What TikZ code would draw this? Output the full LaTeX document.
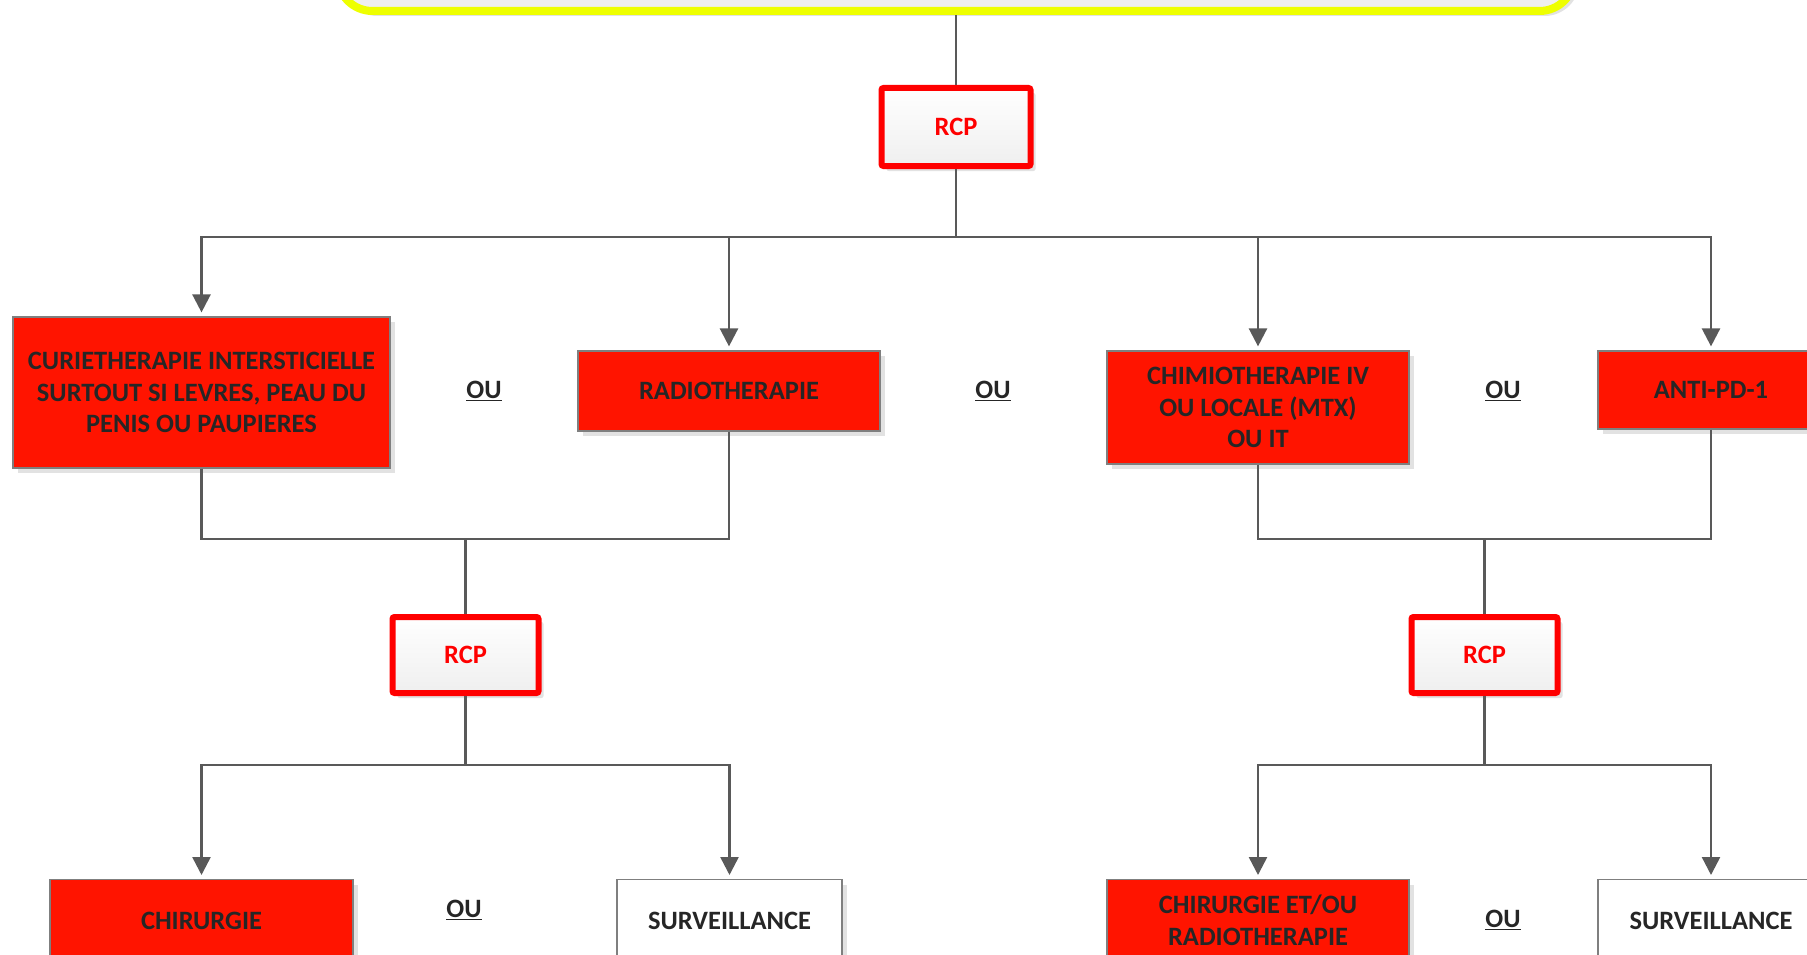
\documentclass[tikz,border=0pt]{standalone}
\usepackage{fontspec}
\setmainfont{Carlito}
\usetikzlibrary{arrows.meta,shadows}
\definecolor{boxred}{RGB}{255,20,0}
\definecolor{linegray}{RGB}{89,89,89}
\definecolor{txtgray}{RGB}{38,38,38}
\definecolor{yel}{RGB}{238,255,0}
\definecolor{shad}{RGB}{226,226,226}
\definecolor{bordergray}{RGB}{127,127,127}
\definecolor{lightfill}{RGB}{239,239,239}
\begin{document}
\begin{tikzpicture}[x=1pt,y=-1pt,
  font=\fontsize{26.5}{31.7}\selectfont\bfseries,
  shd/.style={drop shadow={shadow xshift=5pt,shadow yshift=-5pt,fill=shad,opacity=1}},
  redbox/.style={shd, draw=bordergray, line width=1.2pt, fill=boxred, text=txtgray, inner sep=0pt, align=center},
  whitebox/.style={shd, draw=bordergray, line width=1.2pt, fill=white, text=txtgray, inner sep=0pt, align=center},
  rcpbox/.style={shd, draw=red, line width=6pt, top color=white, bottom color=lightfill, text=red, rounded corners=2pt, minimum width=149pt, minimum height=78pt, inner sep=0pt},
  conn/.style={draw=linegray, line width=2.5pt},
  arr/.style={conn, -{Triangle[width=18pt,length=18pt]}, shorten >=4pt},
  oulabel/.style={text=txtgray, inner sep=0pt}
]
\useasboundingbox (0,0) rectangle (1807,955);

% top yellow box
\node[shd, draw=yel, fill=lightfill, line width=8pt, rounded corners=35pt,
      minimum width=1237pt, minimum height=200pt, anchor=south] (top) at (956,15) {};

% RCP 1
\node[rcpbox] (rcp1) at (956,127) {RCP};

% row of treatments
\node[redbox, minimum width=377pt, minimum height=151pt] (curie) at (201.5,392.5)
  {CURIETHERAPIE INTERSTICIELLE\\SURTOUT SI LEVRES, PEAU DU\\PENIS OU PAUPIERES};
\node[redbox, minimum width=302pt, minimum height=80pt] (radio) at (729,391) {RADIOTHERAPIE};
\node[redbox, minimum width=302pt, minimum height=113pt] (chimio) at (1258,407.5)
  {CHIMIOTHERAPIE IV\\OU LOCALE (MTX)\\OU IT};
\node[redbox, minimum width=226pt, minimum height=78pt] (anti) at (1711,390) {ANTI-PD-1};

\node[oulabel] (ou1) at (484,391) {\underline{OU}};
\node[oulabel] (ou2) at (993,391) {\underline{OU}};
\node[oulabel] (ou3) at (1503,391) {\underline{OU}};

% RCP 2
\node[rcpbox, minimum width=146pt, minimum height=76pt] (rcpl) at (465.5,655) {RCP};
\node[rcpbox, minimum width=146pt, minimum height=76pt] (rcpr) at (1484.5,655) {RCP};

% bottom row
\node[redbox, minimum width=303pt, minimum height=82pt, anchor=north] (chir) at (201.5,879) {CHIRURGIE};
\node[whitebox, minimum width=225pt, minimum height=82pt, anchor=north] (survl) at (729.5,879) {SURVEILLANCE};
\node[redbox, minimum width=302pt, minimum height=82pt, anchor=north] (chirr) at (1258,879)
  {CHIRURGIE ET/OU\\RADIOTHERAPIE};
\node[whitebox, minimum width=226pt, minimum height=82pt, anchor=north] (survr) at (1711,879) {SURVEILLANCE};

\node[oulabel] (ou4) at (464,910) {\underline{OU}};
\node[oulabel] (ou5) at (1503,920) {\underline{OU}};

% junctions
\coordinate (j1) at (956,237);
\coordinate (j2) at (465.5,539);
\coordinate (j3) at (1484.5,539);
\coordinate (j4) at (465.5,765);
\coordinate (j5) at (1484.5,765);

% connectors
\draw[conn] (top.south) -- (rcp1.north);
\draw[conn] (rcp1.south) -- (j1);
\draw[arr] (j1) -| (curie.north);
\draw[arr] (j1) -| (radio.north);
\draw[arr] (j1) -| (chimio.north);
\draw[arr] (j1) -| (anti.north);

\draw[conn] (curie.south) |- (j2);
\draw[conn] (radio.south) |- (j2);
\draw[conn] (j2) -- (rcpl.north);
\draw[conn] (chimio.south) |- (j3);
\draw[conn] (anti.south) |- (j3);
\draw[conn] (j3) -- (rcpr.north);

\draw[conn] (rcpl.south) -- (j4);
\draw[arr] (j4) -| (chir.north);
\draw[arr] (j4) -| (survl.north);
\draw[conn] (rcpr.south) -- (j5);
\draw[arr] (j5) -| (chirr.north);
\draw[arr] (j5) -| (survr.north);
\end{tikzpicture}
\end{document}
